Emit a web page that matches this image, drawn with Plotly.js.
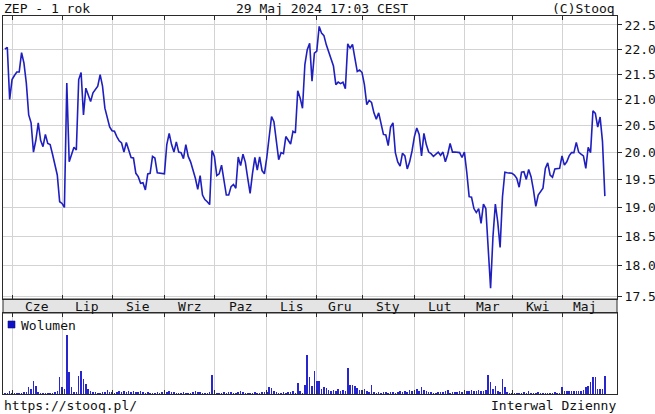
<!DOCTYPE html>
<html><head><meta charset="utf-8">
<script src="https://cdn.plot.ly/plotly-3.0.1.min.js"></script>
<style>html,body{margin:0;padding:0;background:#fff;}#chart{width:655px;height:414px;}</style>
</head><body><div id="chart"></div>
<script>
const chartTitle = 'ZEP - 1 rok';
const stampText = '29 Maj 2024 17:03 CEST';
const copyText = '(C)Stooq';
const urlText = 'https://stooq.pl/';
const intervalText = 'Interwal Dzienny';
const volumeLabel = 'Wolumen';

const monthLabels = ['Cze','Lip','Sie','Wrz','Paz','Lis','Gru','Sty','Lut','Mar','Kwi','Maj'];
const monthStarts = [3,24,45,67,88,110,131,150,172,193,213,234];
const yTicks = [17.5,18.0,18.5,19.0,19.5,20.0,20.5,21.0,21.5,22.0,22.5];

const price = [
22.0,22.04,21.0,21.39,21.47,21.54,21.54,21.93,21.72,21.32,
20.7,20.55,20.0,20.22,20.55,20.22,20.1,20.33,20.16,20.14,
19.96,19.76,19.58,19.10,19.07,19.0,21.32,19.82,19.96,20.09,
20.04,21.39,21.53,20.7,21.22,21.1,20.96,21.13,21.19,21.26,
21.49,21.26,20.83,20.64,20.47,20.4,20.39,20.29,20.21,20.17,
20.0,20.18,20.02,19.9,19.89,19.61,19.55,19.43,19.44,19.31,
19.60,19.61,19.92,19.89,19.62,19.61,19.60,19.60,20.14,20.35,
20.14,20.0,20.19,20.0,19.99,19.88,20.14,19.92,19.82,19.67,
19.52,19.32,19.57,19.22,19.14,19.10,19.05,20.03,19.92,19.57,
19.60,19.76,19.5,19.22,19.22,19.37,19.41,19.34,19.91,19.75,
19.96,19.81,19.52,19.25,19.61,19.9,19.67,19.91,19.66,19.60,
19.9,20.29,20.67,20.57,20.17,19.86,19.99,19.97,20.29,20.23,
20.15,20.39,20.36,21.17,21.03,20.83,21.69,21.99,22.12,21.36,
21.92,21.96,22.47,22.33,22.28,22.09,21.93,21.8,21.66,21.29,
21.34,21.31,21.34,21.21,22.11,22.02,22.1,21.82,21.55,21.58,
21.53,21.29,20.9,20.98,20.94,20.74,20.62,20.74,20.55,20.33,
20.32,20.12,20.47,20.55,19.99,19.82,19.74,19.98,19.93,19.69,
19.82,20.02,20.29,20.45,20.33,19.93,20.35,20.14,20.0,19.97,
19.92,19.96,20.0,19.94,20.0,19.82,19.96,20.16,20.0,20.0,
19.99,19.99,19.9,20.0,19.63,19.19,19.18,18.98,18.91,18.98,
18.72,19.06,18.98,18.38,17.63,18.49,19.06,18.75,18.31,19.19,
19.63,19.62,19.61,19.61,19.58,19.52,19.36,19.63,19.64,19.50,
19.68,19.55,19.31,19.02,19.22,19.28,19.34,19.70,19.80,19.58,
19.54,19.69,19.70,19.70,19.93,19.76,19.82,19.93,19.99,19.99,
20.18,20.0,19.96,19.93,19.70,20.09,19.99,20.78,20.73,20.47,
20.66,20.2,19.20
];

const volume = [
1,1,3,1,1,1,1,1,2,2,
7,5,13,8,2,1,1,1,1,1,
1,2,3,17,7,5,58,22,7,2,
2,18,23,15,10,5,3,2,2,1,
1,2,2,4,2,2,1,2,3,2,
3,2,3,2,3,2,2,3,2,1,
2,1,1,1,2,1,2,1,2,3,
2,2,1,1,1,2,1,1,1,2,
3,2,2,1,1,1,2,19,2,1,
1,1,2,1,2,2,1,1,2,3,
2,1,1,1,1,2,1,1,2,2,
2,7,6,3,2,1,1,2,1,2,
2,3,1,11,3,1,9,39,17,8,
23,13,13,5,7,6,4,3,4,3,
5,3,4,3,26,9,9,8,6,4,
4,5,3,2,9,2,1,2,1,2,
2,1,2,2,1,2,3,2,3,2,
4,3,3,5,3,7,4,3,2,2,
1,1,2,2,2,3,4,1,2,2,
2,3,2,4,3,3,4,3,3,4,
3,3,4,19,12,5,8,3,2,15,
7,2,1,1,1,1,1,1,2,1,
3,1,1,1,2,1,1,1,1,1,
1,2,1,1,7,3,3,3,3,3,
3,3,3,4,7,8,12,17,17,5,
5,5,18
];

const days = price.map((_, i) => i);

// page geometry helpers (pixels -> paper)
const L = 3, R = 617, T = 16, B = 394;
const px = x => (x - L) / (R - L);
const py = y => (B - y) / (B - T);
const priceBottom = 299, volTop = 313;

const font = {family: 'DejaVu Sans Mono, Liberation Mono, monospace', size: 13, color: '#111'};
const axisCol = '#2a2a2a', gridCol = '#d3d3d3';

const monthEnds = monthStarts.slice(1).concat([price.length]);
const monthAnn = monthLabels.map((m, k) => ({
  text: m, xref: 'x', yref: 'paper', x: (monthStarts[k] + monthEnds[k]) / 2, y: py(306),
  xanchor: 'center', yanchor: 'middle', showarrow: false, font: font
}));

const annotations = [
  {text: chartTitle, xref: 'paper', yref: 'paper', x: px(2), y: py(8), xanchor: 'left', yanchor: 'middle', showarrow: false, font: font},
  {text: stampText, xref: 'paper', yref: 'paper', x: px(322), y: py(8), xanchor: 'center', yanchor: 'middle', showarrow: false, font: font},
  {text: copyText, xref: 'paper', yref: 'paper', x: px(617), y: py(8), xanchor: 'right', yanchor: 'middle', showarrow: false, font: font},
  {text: urlText, xref: 'paper', yref: 'paper', x: px(2), y: py(405), xanchor: 'left', yanchor: 'middle', showarrow: false, font: font},
  {text: intervalText, xref: 'paper', yref: 'paper', x: px(618), y: py(405), xanchor: 'right', yanchor: 'middle', showarrow: false, font: font},
  {text: volumeLabel, xref: 'paper', yref: 'paper', x: px(19), y: py(325), xanchor: 'left', yanchor: 'middle', showarrow: false, font: font}
].concat(monthAnn);

const shapes = [
  {type: 'rect', xref: 'paper', yref: 'paper', x0: 0, x1: 1, y0: py(volTop), y1: py(priceBottom),
   fillcolor: '#e4e4e4', line: {color: axisCol, width: 1}, layer: 'below'},
  {type: 'rect', xref: 'paper', yref: 'paper', x0: px(8), x1: px(15), y0: py(328), y1: py(321),
   fillcolor: '#1010c8', line: {color: '#101070', width: 0.6}}
];

const traces = [
  {type: 'scatter', mode: 'lines', x: days, y: price, xaxis: 'x', yaxis: 'y',
   line: {color: '#1f1fbf', width: 1.6}, hoverinfo: 'skip'},
  {type: 'bar', x: days, y: volume, xaxis: 'x2', yaxis: 'y2', width: 0.65,
   marker: {color: '#2626cc', line: {width: 0}}, hoverinfo: 'skip'}
];

const xCommon = {
  range: [-0.8, 257.1], tickvals: monthStarts, showticklabels: false,
  ticks: 'inside', ticklen: 4, tickcolor: axisCol, tickwidth: 1,
  showgrid: true, gridcolor: gridCol, gridwidth: 1,
  showline: true, linecolor: axisCol, linewidth: 1, mirror: 'ticks', zeroline: false, fixedrange: true
};

const layout = {
  width: 655, height: 414,
  margin: {l: L, r: 655 - R, t: T, b: 414 - B, pad: 0},
  paper_bgcolor: '#fff', plot_bgcolor: '#fff',
  showlegend: false, font: font, bargap: 0,
  xaxis: Object.assign({}, xCommon, {anchor: 'y', domain: [0, 1]}),
  xaxis2: Object.assign({}, xCommon, {anchor: 'y2', domain: [0, 1]}),
  yaxis: {
    domain: [py(priceBottom), 1], type: 'log', range: [1.2419, 1.3558], side: 'right',
    tickvals: yTicks, ticktext: yTicks.map(v => v.toFixed(1)),
    ticks: 'outside', ticklen: 4, tickcolor: axisCol, tickfont: font,
    showgrid: true, gridcolor: gridCol, gridwidth: 1,
    showline: true, linecolor: axisCol, linewidth: 1, mirror: true, zeroline: false, fixedrange: true
  },
  yaxis2: {
    domain: [0, py(volTop)], range: [0, Math.max.apply(null, volume) * 1.38],
    showgrid: false, showticklabels: false, ticks: '',
    showline: true, linecolor: axisCol, linewidth: 1, mirror: true, zeroline: false, fixedrange: true
  },
  annotations: annotations,
  shapes: shapes
};

Plotly.newPlot('chart', traces, layout, {staticPlot: true, displayModeBar: false});
</script>
</body></html>
